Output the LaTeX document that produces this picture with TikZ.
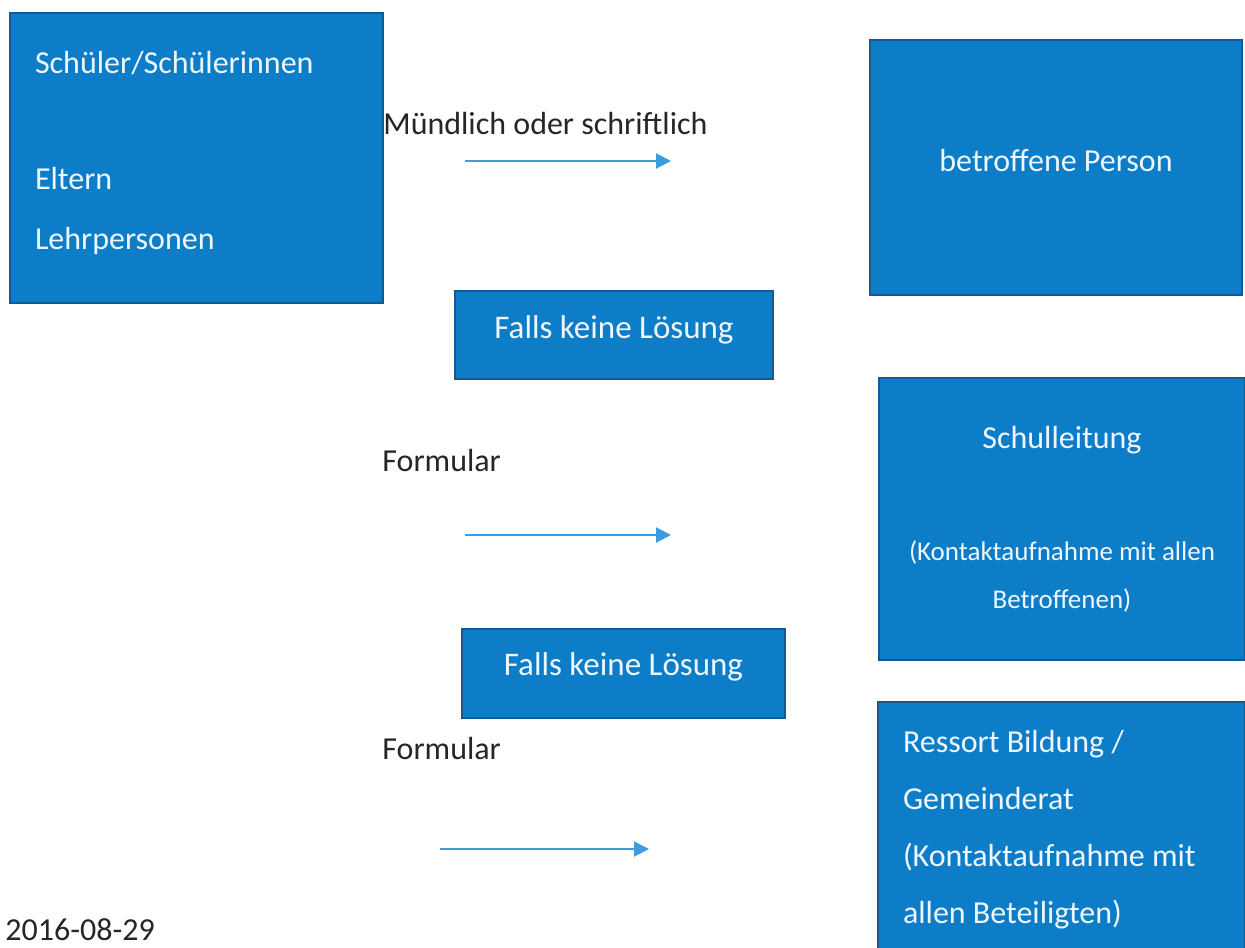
\documentclass[tikz,border=0pt]{standalone}
\usepackage{fontspec}
\setmainfont{Carlito}
\usetikzlibrary{arrows.meta}
\definecolor{boxblau}{RGB}{14,125,200}
\definecolor{boxrand}{RGB}{22,88,145}
\definecolor{pfeilblau}{RGB}{59,157,224}
\definecolor{schrift}{RGB}{38,38,38}
\definecolor{boxschrift}{RGB}{238,246,255}
\newcommand{\tiefe}[1]{\rule[-#1]{0pt}{#1}}

\begin{document}
\begin{tikzpicture}[x=0.5pt, y=-0.5pt,
    box/.style={draw=boxrand, line width=1pt, fill=boxblau, text=boxschrift,
      inner sep=0pt, font=\fontsize{16}{20}\selectfont},
    pfeil/.style={draw=pfeilblau, line width=1pt, -{Triangle[length=7.5pt,width=7.5pt]}},
    beschriftung/.style={text=schrift, inner sep=0pt, anchor=west, font=\fontsize{16}{20}\selectfont}]
    \useasboundingbox (0,0) rectangle (1245,947);
    \fill[white] (0,0) rectangle (1245,947);
    % Kaestchen
    \node[box, minimum width=186.5pt, minimum height=145pt, inner xsep=12.5pt,
      text width=161.5pt, align=flush left] (melder) at (196.5,158)
      {Schüler/Schülerinnen\\[38pt]Eltern\\[10pt]Lehrpersonen\tiefe{8pt}};
    \node[box, minimum width=186pt, minimum height=127.5pt] (person) at (1056,167.5) {betroffene Person\tiefe{7pt}};
    \node[box, minimum width=159pt, minimum height=44pt, font=\fontsize{16.5}{20}\selectfont] (loesung1) at (614,335) {Falls keine Lösung\tiefe{7.5pt}};
    \node[box, minimum width=183pt, minimum height=141pt, align=center] (leitung) at (1062,519)
      {Schulleitung\\[36pt]{\fontsize{13.5}{24}\selectfont (Kontaktaufnahme mit allen}\\[4pt]
       {\fontsize{13.5}{24}\selectfont Betroffenen)}\tiefe{2pt}};
    \node[box, minimum width=161.5pt, minimum height=44.5pt, font=\fontsize{16.5}{20}\selectfont] (loesung2) at (623.5,673.5) {Falls keine Lösung\tiefe{9pt}};
    \node[box, minimum width=183.5pt, minimum height=128pt, inner xsep=12.5pt,
      text width=158.5pt, align=flush left, font=\fontsize{16}{28.5}\selectfont] (ressort) at (1061.5,830)
      {Ressort Bildung /\\Gemeinderat\\(Kontaktaufnahme mit\\allen Beteiligten)};
    % Beschriftungen
    \node[beschriftung] (muendlich) at (383,124) {Mündlich oder schriftlich};
    \node[beschriftung] (formular1) at (382,461) {Formular};
    \node[beschriftung] (formular2) at (382,748) {Formular};
    \node[beschriftung, anchor=north west] (datum) at (5,918) {2016-08-29};
    % Pfeile
    \coordinate (p1a) at (465,161);
    \coordinate (p1b) at (671,161);
    \coordinate (p2a) at (465,535);
    \coordinate (p2b) at (671,535);
    \coordinate (p3a) at (440,849);
    \coordinate (p3b) at (649,849);
    \draw[pfeil] (p1a) -- (p1b);
    \draw[pfeil] (p2a) -- (p2b);
    \draw[pfeil] (p3a) -- (p3b);
\end{tikzpicture}
\end{document}
